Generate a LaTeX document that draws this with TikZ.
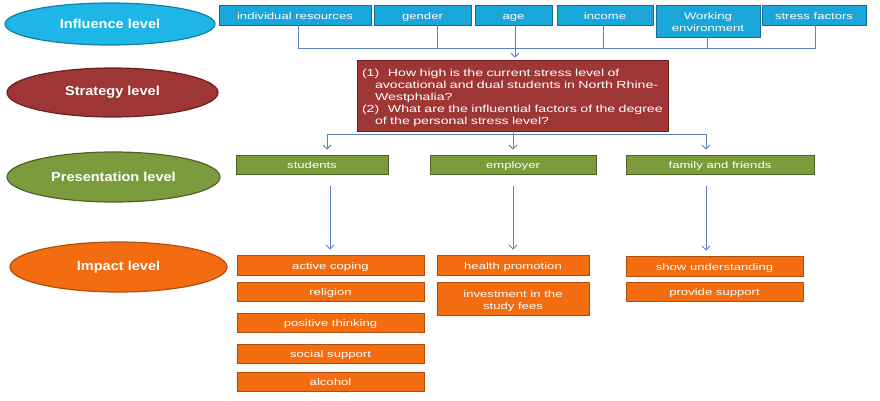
\documentclass[tikz,border=0pt]{standalone}
\usepackage{fontspec}
\setmainfont{Liberation Sans}
\newfontfamily\boxfont[FakeStretch=1.38]{Liberation Sans}
\newfontfamily\ellfont[FakeStretch=1.12]{Liberation Sans}
\usetikzlibrary{arrows.meta,shapes.geometric,calc}
\definecolor{cyanF}{HTML}{1DB6E6}
\definecolor{cyanD}{HTML}{1180A8}
\definecolor{blueF}{HTML}{1BA6D9}
\definecolor{blueD}{HTML}{126E92}
\definecolor{redF}{HTML}{9E3636}
\definecolor{redD}{HTML}{6B2020}
\definecolor{greenF}{HTML}{7C9B3D}
\definecolor{greenD}{HTML}{4F6327}
\definecolor{orangeF}{HTML}{F36C10}
\definecolor{orangeD}{HTML}{B04E0A}
\definecolor{lineC}{HTML}{5A82BE}
\begin{document}
\begin{tikzpicture}[x=1pt,y=-1pt,
  lvl/.style={ellipse, line width=1.2pt, text=white, inner sep=0pt,
    font=\ellfont\bfseries\fontsize{13}{15}\selectfont},
  tbox/.style={rectangle, line width=0.9pt, text=white, inner sep=0pt,
    font=\boxfont\fontsize{9.5}{12}\selectfont},
  one/.style={text height=8.8pt, text depth=0pt},
  bluebox/.style={tbox, fill=blueF, draw=blueD},
  greenbox/.style={tbox, fill=greenF, draw=greenD},
  orangebox/.style={tbox, fill=orangeF, draw=orangeD},
  conn/.style={draw=lineC, line width=0.8pt},
  arr/.style={conn, -{Straight Barb[length=4pt,width=8pt]}}
]
\useasboundingbox (0,0) rectangle (880,400);

% level ellipses
\node[lvl, fill=cyanF, draw=cyanD, minimum width=210pt, minimum height=42pt] (inf) at (110,24) {Influence level};
\node[lvl, fill=redF, draw=redD, minimum width=211pt, minimum height=49pt] (strat) at (112.5,92.5) {Strategy level};
\node[lvl, fill=greenF, draw=greenD, minimum width=213pt, minimum height=50pt] (pres) at (113.5,177) {Presentation level};
\node[lvl, fill=orangeF, draw=orangeD, minimum width=217pt, minimum height=50pt] (imp) at (118.5,267) {Impact level};

% influence boxes
\node[bluebox, one, minimum width=152pt, minimum height=20pt] (ir) at (295,15) {individual resources};
\node[bluebox, one, minimum width=97pt, minimum height=20pt] (gen) at (422.5,15) {gender};
\node[bluebox, one, minimum width=77pt, minimum height=20pt] (age) at (513.5,15) {age};
\node[bluebox, one, minimum width=96pt, minimum height=20pt] (inc) at (605,15) {income};
\node[bluebox, align=center, minimum width=104pt, minimum height=32pt] (work) at (708,21) {\rule{0pt}{9pt}Working\\environment};
\node[bluebox, one, minimum width=104pt, minimum height=20pt] (stf) at (814,15) {stress factors};

% question box
\node[tbox, fill=redF, draw=redD, minimum width=311pt, minimum height=71pt,
  text width=301pt, align=left, inner xsep=5pt,
  font=\boxfont\fontsize{10.25}{12}\selectfont] (q) at (512.5,95.5)
  {\rule{0pt}{12.5pt}\makebox[26pt][l]{(1)}How high is the current stress level of\\
   \hspace*{13pt}avocational and dual students in North Rhine-\\
   \hspace*{13pt}Westphalia?\\
   \makebox[26pt][l]{(2)}What are the influential factors of the degree\\
   \hspace*{13pt}of the personal stress level?};

% presentation boxes
\node[greenbox, one, minimum width=152pt, minimum height=19pt] (stud) at (312,164.5) {students};
\node[greenbox, one, minimum width=166pt, minimum height=19pt] (emp) at (513,164.5) {employer};
\node[greenbox, one, minimum width=188pt, minimum height=19pt] (fam) at (720,164.5) {family and friends};

% impact boxes
\node[orangebox, one, minimum width=187pt, minimum height=20pt] (ac) at (330.5,265) {active coping};
\node[orangebox, one, minimum width=187pt, minimum height=19pt] (rel) at (330.5,291.5) {religion};
\node[orangebox, one, minimum width=187pt, minimum height=19pt] (pos) at (330.5,322.5) {positive thinking};
\node[orangebox, one, minimum width=187pt, minimum height=19pt] (soc) at (330.5,353.5) {social support};
\node[orangebox, one, minimum width=187pt, minimum height=19pt] (alc) at (330.5,381.5) {alcohol};
\node[orangebox, one, minimum width=152pt, minimum height=20pt] (hp) at (513,265) {health promotion};
\node[orangebox, align=center, minimum width=152pt, minimum height=33pt] (inv) at (513,298.5) {\rule{0pt}{11.5pt}investment in the\\study fees};
\node[orangebox, one, minimum width=177pt, minimum height=20pt] (su) at (714.5,266) {show understanding};
\node[orangebox, one, minimum width=177pt, minimum height=19pt] (ps) at (714.5,291.5) {provide support};

% bus from influence boxes
\coordinate (bus) at (515,48);
\draw[conn] ([xshift=3pt]ir.south) |- (bus);
\draw[conn] ([xshift=14.5pt]gen.south) |- (bus);
\draw[conn] ([xshift=1.5pt]age.south) -- (bus);
\draw[conn] ([xshift=-2pt]inc.south) |- (bus);
\draw[conn] ([xshift=-1pt]work.south) |- (bus);
\draw[conn] ([xshift=1pt]stf.south) |- (bus);
\draw[arr, shorten >=2pt] (bus) -- (q.north -| bus);

% from question box to presentation level
\coordinate (hub) at (513,134);
\coordinate (hl) at (327,134);
\coordinate (hr) at (706,134);
\draw[conn] (hl) -- (hr);
\draw[arr, shorten >=5pt] (q.south -| hub) -- (emp.north -| hub);
\draw[arr, shorten >=5pt] (hl) -- (stud.north -| hl);
\draw[arr, shorten >=5pt] (hr) -- (fam.north -| hr);

% presentation to impact
\coordinate (c1) at (330,0);
\coordinate (c3) at (706,0);
\draw[arr, shorten <=12pt, shorten >=5pt] (stud.south -| c1) -- (ac.north -| c1);
\draw[arr, shorten <=12pt, shorten >=5pt] (emp.south) -- (hp.north);
\draw[arr, shorten <=12pt, shorten >=5pt] (fam.south -| c3) -- (su.north -| c3);
\end{tikzpicture}
\end{document}
